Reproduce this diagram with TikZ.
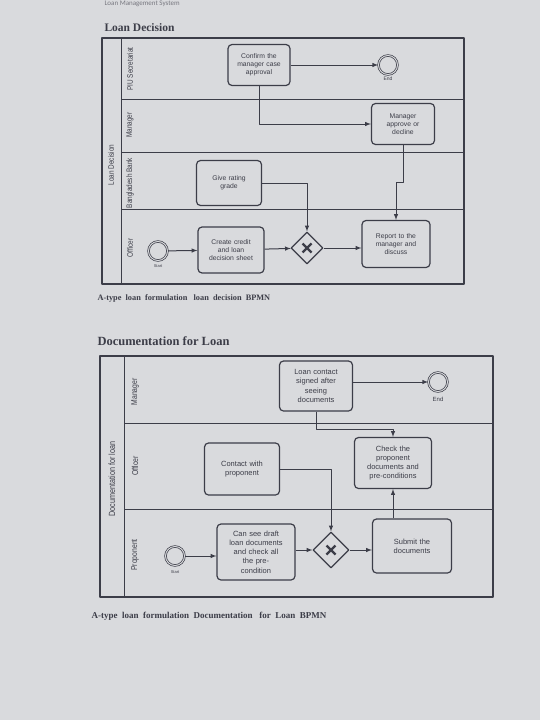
\documentclass[tikz,border=0pt]{standalone}
\usepackage{fontspec}
\setmainfont{Liberation Serif}
\setsansfont{Liberation Sans}
\newfontfamily\narrowfont[FakeStretch=0.8]{Liberation Sans}
\newfontfamily\headfont{Carlito}
\usetikzlibrary{shapes.geometric}
\definecolor{ink}{HTML}{3C3D48}
\definecolor{paper}{HTML}{D9DADD}

\begin{document}
\begin{tikzpicture}
	[x=1pt, y=-1pt, line join=round,
	task/.style={draw=ink, line width=1.2pt, rounded corners=4pt, align=center, inner sep=1pt, font=\sffamily\fontsize{6.8}{8.2}\selectfont, text=ink},
	bigtask/.style={task, font=\sffamily\fontsize{7.5}{9.2}\selectfont},
	event/.style={circle, draw=ink, double=paper, double distance=1pt, line width=0.7pt, minimum size=19pt, inner sep=0pt},
	gate/.style={diamond, draw=ink, line width=1.2pt, fill=paper, inner sep=0pt,
		path picture={\draw[ink, line width=2.4pt]
			([shift={(-4.5pt,-4.5pt)}]path picture bounding box.center) -- ([shift={(4.5pt,4.5pt)}]path picture bounding box.center)
			([shift={(-4.5pt,4.5pt)}]path picture bounding box.center) -- ([shift={(4.5pt,-4.5pt)}]path picture bounding box.center);}},
	flow/.style={draw=ink, line width=1pt, -latex},
	lane/.style={draw=ink, line width=1pt},
	lanename/.style={rotate=90, font=\narrowfont\fontsize{8}{8}\selectfont, text=ink},
	biglanename/.style={lanename, font=\narrowfont\fontsize{8.5}{8.5}\selectfont},
	tag/.style={font=\sffamily\fontsize{5}{5}\selectfont, text=ink},
	heading/.style={anchor=west, font=\bfseries, text=ink}]
	\useasboundingbox (0,0) rectangle (540,720);
	\fill[paper] (0,0) rectangle (540,720);
	\node[anchor=west, font=\headfont\fontsize{7}{7}\selectfont, text=ink!70] (header) at (101,4) {Loan Management System};

	\node[heading, font=\bfseries\fontsize{11.5}{11.5}\selectfont] (title1) at (101,28) {Loan Decision};
	\draw[lane, line width=1.3pt] (102,38) rectangle (464,284);
	\draw[lane] (121,38) -- (121,284);
	\draw[lane] (121,99) -- (464,99);
	\draw[lane] (121,152) -- (464,152);
	\draw[lane] (121,209) -- (464,209);
	\node[lanename] (pool1) at (111,165) {Loan Decision};
	\node[lanename] (piu) at (130,69) {PIU Secretariat};
	\node[lanename] (manager1) at (130,125) {Manager};
	\node[lanename] (bank) at (130,183) {Bangladesh Bank};
	\node[lanename] (officer1) at (130,248) {Officer};

	\node[task, minimum width=62pt, minimum height=41pt, text width=58pt] (confirm) at (259,65) {Confirm the\\manager case\\approval};
	\node[event] (end1) at (388,65) {};
	\node[tag] (endtag1) at (388,79) {End};
	\node[task, minimum width=63pt, minimum height=41pt, text width=58pt] (approve) at (403,124) {Manager\\approve or\\decline};
	\node[task, minimum width=65pt, minimum height=45pt, text width=58pt] (rating) at (229,183) {Give rating\\grade};
	\node[event] (start1) at (158,251) {};
	\node[tag, font=\sffamily\fontsize{4}{4}\selectfont] (starttag1) at (158,266) {Start};
	\node[task, minimum width=66pt, minimum height=46pt, text width=62pt] (credit) at (231,250) {Create credit\\and loan\\decision sheet};
	\node[gate, minimum size=32pt] (xor1) at (307,248) {};
	\node[task, minimum width=68pt, minimum height=47pt, text width=62pt] (report) at (396,244) {Report to the\\manager and\\discuss};
	\coordinate (bend1) at (403,182);

	\draw[flow] (start1) -- (credit);
	\draw[flow] (credit) -- (xor1);
	\draw[flow] (xor1) -- (report.west |- xor1);
	\draw[flow] (rating.east) -| (xor1.north);
	\draw[flow] (confirm) -- (end1);
	\draw[flow] (confirm.south) |- (approve.west);
	\draw[flow] (approve.south) -- (bend1) -| (report.north);
	\node[heading, font=\bfseries\fontsize{8.3}{8.3}\selectfont] (caption1) at (94,298) {A-type\ \ loan\ \ formulation\ \ \ loan\ \ decision\ \ BPMN};

	\node[heading, font=\bfseries\fontsize{12.5}{12.5}\selectfont] (title2) at (94,341) {Documentation for Loan};
	\draw[lane, line width=1.3pt] (100,356) rectangle (493,597);
	\draw[lane] (124,356) -- (124,597);
	\draw[lane] (124,423) -- (493,423);
	\draw[lane] (124,509) -- (493,509);
	\node[biglanename, font=\narrowfont\fontsize{9}{9}\selectfont] (pool2) at (112,479) {Documentation for loan};
	\node[biglanename] (manager2) at (135,392) {Manager};
	\node[biglanename] (officer2) at (135,466) {Officer};
	\node[biglanename] (proponent) at (135,555) {Proponent};

	\node[bigtask, minimum width=73pt, minimum height=50pt, text width=70pt] (contract) at (316,386) {Loan contact\\signed after\\seeing\\documents};
	\node[event] (end2) at (438,382) {};
	\node[tag, font=\sffamily\fontsize{6}{6}\selectfont] (endtag2) at (438,399) {End};
	\node[bigtask, minimum width=77pt, minimum height=51pt, text width=74pt] (check) at (393,463) {Check the\\proponent\\documents and\\pre-conditions};
	\node[bigtask, minimum width=75pt, minimum height=52pt, text width=70pt] (contact) at (242,469) {Contact with\\proponent};
	\node[event] (start2) at (175,556) {};
	\node[tag, font=\sffamily\fontsize{4}{4}\selectfont] (starttag2) at (175,572) {Start};
	\node[bigtask, minimum width=78pt, minimum height=56pt, text width=75pt] (draft) at (256,552) {Can see draft\\loan documents\\and check all\\the pre-\\condition};
	\node[gate, minimum size=36pt] (xor2) at (331,550) {};
	\node[bigtask, minimum width=79pt, minimum height=54pt, text width=74pt] (submit) at (412,546) {Submit the\\documents};
	\coordinate (bend2) at (316,429);

	\draw[flow] (start2) -- (start2 -| draft.west);
	\draw[flow] (draft.east |- xor2) -- (xor2);
	\draw[flow] (xor2) -- (submit.west |- xor2);
	\draw[flow] (contact.east) -| (xor2.north);
	\draw[flow] (contract.east |- end2) -- (end2);
	\draw[flow] (contract.south) -- (bend2) -| (check.north);
	\draw[flow] (submit.north -| check.south) -- (check.south);
	\node[heading, font=\bfseries\fontsize{9}{9}\selectfont] (caption2) at (88,616) {A-type\ \ loan\ \ formulation\ \ Documentation\ \ \ for\ \ Loan\ \ BPMN};
\end{tikzpicture}
\end{document}
